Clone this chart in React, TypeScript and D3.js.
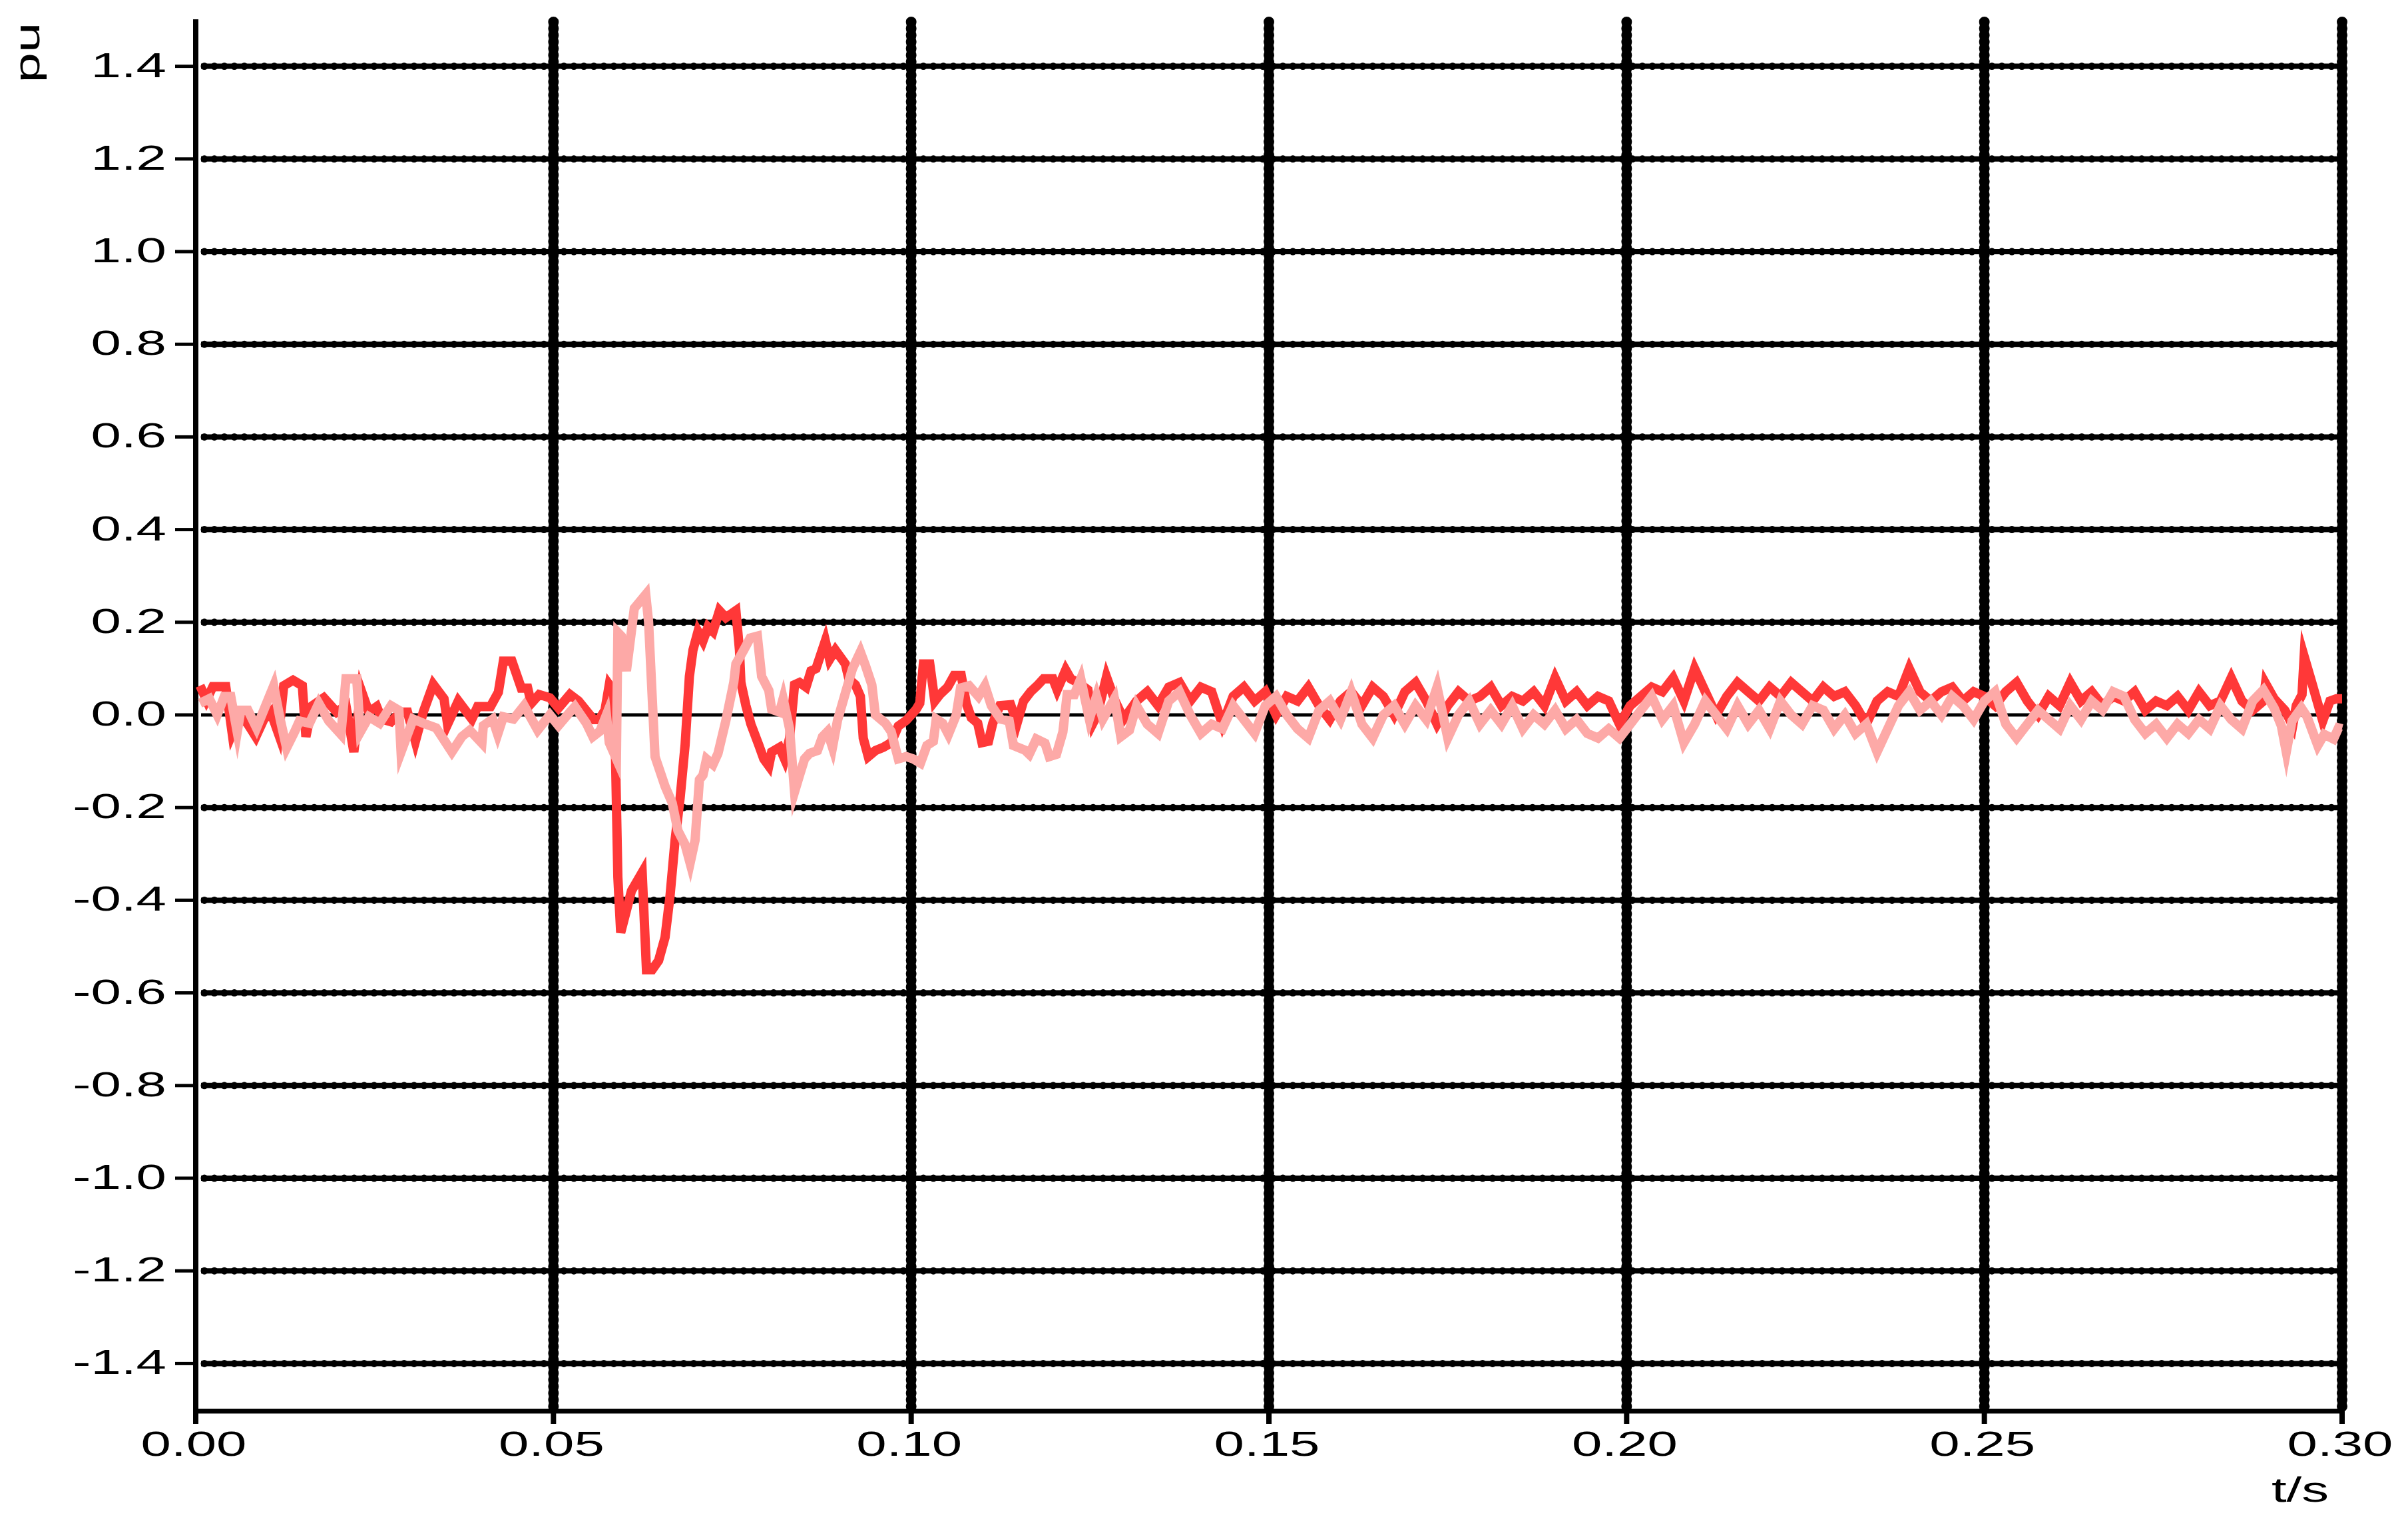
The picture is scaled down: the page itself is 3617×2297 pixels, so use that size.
import React from "react";
import * as d3 from "d3";

// time in ms, value in pu
const redSeries: [number, number][] = [
  [0.6, 0.063], [1.5, 0.032], [2.4, 0.061], [4.2, 0.061], [5.1, -0.04], [6.2, 0.0], [7.3, -0.02],
  [8.4, -0.047], [9.5, -0.01], [10.5, 0.006], [11.6, -0.042], [12.3, 0.063], [13.6, 0.075],
  [14.9, 0.063], [15.4, -0.047], [16.3, 0.02], [17.9, 0.037], [19.7, 0.006], [21.0, 0.02],
  [22.1, -0.08], [23.1, 0.054], [24.2, 0.006], [25.3, 0.018], [26.0, -0.009], [27.3, -0.015],
  [28.6, 0.006], [29.6, 0.006], [30.7, -0.057], [31.8, 0.006], [33.2, 0.066], [34.7, 0.035],
  [35.2, -0.02], [36.7, 0.03], [38.6, -0.009], [39.4, 0.018], [41.2, 0.018], [42.3, 0.049],
  [43.0, 0.116], [44.2, 0.116], [45.5, 0.058], [46.4, 0.058], [46.9, 0.025], [48.0, 0.044],
  [49.5, 0.037], [50.7, 0.015], [52.3, 0.044], [53.5, 0.03], [55.6, -0.01], [56.4, -0.01],
  [57.2, 0.01], [57.8, 0.065], [58.5, 0.05], [59.0, -0.35], [59.4, -0.47], [60.9, -0.38],
  [62.4, -0.34], [63.0, -0.55], [63.8, -0.55], [64.7, -0.53], [65.6, -0.48], [66.3, -0.39],
  [67.0, -0.27], [67.7, -0.18], [68.4, -0.065], [69.0, 0.083], [69.5, 0.14], [70.2, 0.18],
  [70.9, 0.16], [71.6, 0.19], [72.3, 0.18], [73.2, 0.225], [74.1, 0.21], [75.5, 0.225],
  [76.0, 0.14], [76.2, 0.07], [76.9, 0.02], [77.6, -0.02], [78.7, -0.065], [79.4, -0.095],
  [80.1, -0.11], [80.5, -0.08], [81.6, -0.07], [82.3, -0.095], [83.0, -0.05], [83.7, 0.065],
  [84.4, 0.07], [85.3, 0.06], [86.0, 0.095], [86.7, 0.1], [88.0, 0.16], [88.6, 0.12],
  [89.4, 0.14], [90.8, 0.11], [91.3, 0.077], [92.2, 0.065], [92.9, 0.04], [93.3, -0.05],
  [94.0, -0.09], [95.0, -0.077], [96.1, -0.07], [97.2, -0.06], [98.2, -0.024], [99.3, -0.012],
  [100.7, 0.012], [101.2, 0.025], [101.7, 0.11], [102.6, 0.11], [103.3, 0.03], [104.0, 0.044],
  [105.1, 0.06], [106.0, 0.085], [107.0, 0.085], [107.7, 0.025], [108.4, -0.006], [109.3, -0.018],
  [109.9, -0.06], [110.8, -0.057], [111.4, -0.018], [112.4, 0.02], [113.9, 0.022], [114.8, -0.018],
  [115.7, 0.03], [116.7, 0.05], [117.6, 0.063], [118.5, 0.078], [119.8, 0.078], [120.4, 0.054],
  [121.6, 0.097], [122.3, 0.078], [123.5, 0.068], [124.7, 0.054], [125.4, -0.018], [126.0, 0.0],
  [127.3, 0.082], [128.5, 0.03], [129.7, -0.009],
  [131.5, 0.03], [133, 0.05], [134.5, 0.02], [136, 0.06], [137.5, 0.07], [139, 0.03], [140.5, 0.06],
  [142, 0.05], [143.5, -0.02], [145, 0.04], [146.5, 0.06], [148, 0.03], [149.5, 0.05], [151, 0.0],
  [152.5, 0.04], [154, 0.03], [155.5, 0.06], [157, 0.02], [158.5, -0.01], [160, 0.03], [161.5, 0.05],
  [163, 0.02], [164.5, 0.06], [166, 0.04], [167.5, 0.0], [169, 0.05], [170.5, 0.07], [172, 0.03],
  [173.5, -0.02], [175, 0.02], [176.5, 0.05], [178, 0.03], [179.5, 0.04], [181, 0.06], [182.5, 0.02],
  [184, 0.04], [185.5, 0.03], [187, 0.05], [188.5, 0.02], [190, 0.08], [191.5, 0.03], [193, 0.05],
  [194.5, 0.02], [196, 0.04], [197.5, 0.03], [199, -0.02], [200.5, 0.02], [202, 0.04], [203.5, 0.06],
  [205, 0.05], [206.5, 0.08], [208, 0.03], [209.5, 0.1], [211, 0.05], [212.5, 0.0], [214, 0.04],
  [215.5, 0.07], [217, 0.05], [218.5, 0.03], [220, 0.06], [221.5, 0.04], [223, 0.07], [224.5, 0.05],
  [226, 0.03], [227.5, 0.06], [229, 0.04], [230.5, 0.05], [232, 0.02], [233.5, -0.02], [235, 0.03],
  [236.5, 0.05], [238, 0.04], [239.5, 0.1], [241, 0.05], [242.5, 0.03], [244, 0.05], [245.5, 0.06],
  [247, 0.03], [248.5, 0.05], [250, 0.04], [251.5, 0.02], [253, 0.05], [254.5, 0.07], [256, 0.03],
  [257.5, 0.0], [259, 0.04], [260.5, 0.02], [262, 0.07], [263.5, 0.03], [265, 0.05], [266.5, 0.02],
  [268, 0.04], [269.5, 0.03], [271, 0.05], [272.5, 0.01], [274, 0.03], [275.5, 0.02], [277, 0.04],
  [278.5, 0.01], [280, 0.05], [281.5, 0.02], [283, 0.03], [284.5, 0.08], [286, 0.03], [287.5, 0.01],
  [289.0, 0.03], [289.3, 0.068], [290.5, 0.035], [292, 0.01], [293.1, -0.023], [293.6, 0.02],
  [294.4, 0.044], [294.7, 0.126], [295.8, 0.068], [297.3, -0.013], [298.3, 0.03], [299.2, 0.035],
  [300, 0.035],
];

const pinkSeries: [number, number][] = [
  [0.6, 0.025], [1.9, 0.035], [3.0, 0.0], [4.0, 0.04], [4.9, 0.04], [5.8, -0.037], [6.3, 0.01],
  [7.3, 0.01], [8.5, -0.028], [10.9, 0.063], [11.8, -0.009], [12.7, -0.071], [13.8, -0.037],
  [14.5, -0.013], [15.9, -0.018], [17.2, 0.025], [18.6, -0.013], [20.3, -0.042], [21.0, 0.078],
  [22.5, 0.078], [23.0, -0.037], [24.2, -0.004], [25.7, -0.018], [27.3, 0.02], [28.4, 0.01],
  [28.7, -0.08], [30.4, -0.009], [31.8, -0.018], [33.6, -0.028], [35.8, -0.08], [37.2, -0.047],
  [38.3, -0.033], [40.0, -0.061], [40.2, -0.023], [41.5, -0.009], [42.2, -0.042], [43.0, -0.004],
  [44.4, -0.009], [45.9, 0.02], [47.8, -0.033], [49.5, 0.0], [50.7, -0.023], [52.3, 0.006],
  [53.0, 0.018], [54.6, -0.018], [55.5, -0.047], [56.5, -0.035], [57.4, 0.0], [57.8, -0.06],
  [58.8, -0.095], [59.0, 0.178], [59.5, 0.17], [60.2, 0.095], [61.3, 0.23], [62.9, 0.26],
  [63.3, 0.2], [64.2, -0.09], [65.6, -0.154], [66.6, -0.19], [67.4, -0.25], [68.4, -0.28],
  [69.1, -0.32], [69.8, -0.27], [70.4, -0.14], [70.9, -0.13], [71.4, -0.095], [72.3, -0.107],
  [73.0, -0.083], [74.1, -0.012], [75.2, 0.07], [75.5, 0.11], [76.6, 0.14], [77.5, 0.166],
  [78.5, 0.17], [79.1, 0.083], [80.1, 0.053], [80.5, 0.012], [81.6, 0.006], [82.1, 0.035],
  [83.0, -0.03], [83.7, -0.166], [84.4, -0.13], [85.1, -0.095], [85.8, -0.083], [86.9, -0.077],
  [87.6, -0.047], [88.3, -0.036], [89.0, -0.07], [89.7, -0.012], [90.8, 0.047], [91.8, 0.1],
  [92.9, 0.136], [93.6, 0.107], [94.5, 0.065], [95.0, 0.0], [96.4, -0.018], [97.2, -0.036],
  [98.2, -0.095], [99.3, -0.09], [100.3, -0.095], [101.3, -0.104], [102.2, -0.066], [103.1, -0.057],
  [103.5, -0.009], [104.4, -0.018], [105.2, -0.042], [106.3, 0.0], [106.9, 0.058], [108.1, 0.063],
  [109.4, 0.04], [110.3, 0.063], [111.2, 0.02], [112.5, -0.009], [113.7, -0.013], [114.3, -0.066],
  [115.9, -0.076], [116.5, -0.085], [117.5, -0.052], [118.7, -0.061], [119.3, -0.09], [120.3, -0.085],
  [121.2, -0.037], [121.8, 0.044], [122.8, 0.044], [123.7, 0.078], [124.9, -0.009], [125.9, 0.04],
  [126.8, -0.009], [128.4, 0.035], [129.3, -0.047], [130.5, -0.033],
  [131.5, 0.02], [133, -0.02], [134.5, -0.04], [136, 0.03], [137.5, 0.05], [139, 0.0], [140.5, -0.04],
  [142, -0.02], [143.5, -0.03], [145, 0.02], [146.5, -0.01], [148, -0.04], [149.5, 0.02], [151, 0.04],
  [152.5, 0.0], [154, -0.03], [155.5, -0.05], [157, 0.01], [158.5, 0.03], [160, -0.01], [161.5, 0.05],
  [163, -0.02], [164.5, -0.05], [166, 0.0], [167.5, 0.02], [169, -0.02], [170.5, 0.02], [172, -0.01],
  [173.5, 0.06], [175, -0.05], [176.5, 0.0], [178, 0.03], [179.5, -0.02], [181, 0.01], [182.5, -0.02],
  [184, 0.02], [185.5, -0.03], [187, 0.0], [188.5, -0.02], [190, 0.01], [191.5, -0.03], [193, -0.01],
  [194.5, -0.04], [196, -0.05], [197.5, -0.03], [199, -0.05], [200.5, -0.02], [202, 0.01], [203.5, 0.04],
  [205, -0.01], [206.5, 0.02], [208, -0.06], [209.5, -0.02], [211, 0.03], [212.5, 0.0], [214, -0.03],
  [215.5, 0.02], [217, -0.02], [218.5, 0.01], [220, -0.03], [221.5, 0.03], [223, 0.0], [224.5, -0.02],
  [226, 0.02], [227.5, 0.01], [229, -0.03], [230.5, 0.0], [232, -0.04], [233.5, -0.02], [235, -0.08],
  [236.5, -0.03], [238, 0.02], [239.5, 0.05], [241, 0.01], [242.5, 0.03], [244, 0.0], [245.5, 0.04],
  [247, 0.02], [248.5, -0.01], [250, 0.03], [251.5, 0.05], [253, -0.02], [254.5, -0.05], [256, -0.02],
  [257.5, 0.01], [259, -0.01], [260.5, -0.03], [262, 0.02], [263.5, -0.01], [265, 0.03], [266.5, 0.01],
  [268, 0.05], [269.5, 0.04], [271, -0.01], [272.5, -0.04], [274, -0.02], [275.5, -0.05], [277, -0.02],
  [278.5, -0.04], [280, -0.01], [281.5, -0.03], [283, 0.02], [284.5, -0.01], [286, -0.03], [287.5, 0.03],
  [289, 0.054], [290.5, 0.015], [291.5, -0.023], [292.2, -0.08], [293, -0.013], [294.3, 0.015],
  [295.1, -0.004], [296.6, -0.066], [297.5, -0.042], [298.8, -0.052], [299.5, -0.028], [300, -0.03],
];

const xTicks = [0, 50, 100, 150, 200, 250, 300];
const xTickLabels = ["0.00", "0.05", "0.10", "0.15", "0.20", "0.25", "0.30"];
const yTicks = [1.4, 1.2, 1.0, 0.8, 0.6, 0.4, 0.2, 0.0, -0.2, -0.4, -0.6, -0.8, -1.0, -1.2, -1.4];
const yTickLabels = ["1.4", "1.2", "1.0", "0.8", "0.6", "0.4", "0.2", "0.0", "-0.2", "-0.4", "-0.6", "-0.8", "-1.0", "-1.2", "-1.4"];

const W = 3617;
const H = 2297;
const FONT = "'Liberation Sans', Arial, Helvetica, sans-serif";
const STRETCH = 1.57;

export default function App() {
  const x = d3.scaleLinear().domain([0, 300]).range([294, 3518]);
  const y = d3.scaleLinear().domain([-1.5, 1.5]).range([2118, 30]);
  const line = d3
    .line<[number, number]>()
    .x((d) => x(d[0]))
    .y((d) => y(d[1]));

  const top = 29;
  const bottom = 2120;
  const gridLeft = 302;
  const gridRight = x(300);

  return (
    <svg
      width={W}
      height={H}
      viewBox={`0 0 ${W} ${H}`}
      style={{ position: "absolute", left: 0, top: 0, background: "#fff" }}
    >
      <rect x={0} y={0} width={W} height={H} fill="#fff" />
      {/* horizontal gridlines */}
      {yTicks.map((v) =>
        v === 0 ? (
          <line key={"h" + v} x1={gridLeft} x2={gridRight} y1={y(v)} y2={y(v)} stroke="#000" strokeWidth={5} />
        ) : (
          <g key={"h" + v}>
            <line x1={gridLeft} x2={gridRight} y1={y(v)} y2={y(v)} stroke="#000" strokeWidth={8} />
            <line
              x1={gridLeft + 5}
              x2={gridRight}
              y1={y(v)}
              y2={y(v)}
              stroke="#000"
              strokeWidth={11}
              strokeLinecap="round"
              strokeDasharray="0 15"
            />
          </g>
        )
      )}
      {/* vertical gridlines */}
      {xTicks.slice(1).map((t) => (
        <g key={"v" + t}>
          <line x1={x(t)} x2={x(t)} y1={top} y2={bottom - 4} stroke="#000" strokeWidth={14} />
          <line
            x1={x(t)}
            x2={x(t)}
            y1={top + 4}
            y2={bottom - 6}
            stroke="#000"
            strokeWidth={16}
            strokeLinecap="round"
            strokeDasharray="0 10"
          />
        </g>
      ))}
      {/* axes */}
      <line x1={x(0)} x2={x(0)} y1={top} y2={2139} stroke="#000" strokeWidth={8} />
      <line x1={x(0)} x2={x(300)} y1={bottom} y2={bottom} stroke="#000" strokeWidth={7} />
      {yTicks.map((v) => (
        <line key={"yt" + v} x1={263} x2={x(0)} y1={y(v)} y2={y(v)} stroke="#000" strokeWidth={5} />
      ))}
      {xTicks.slice(1).map((t) => (
        <line key={"xt" + t} x1={x(t)} x2={x(t)} y1={bottom} y2={2139} stroke="#000" strokeWidth={8} />
      ))}
      {/* labels */}
      {yTicks.map((v, i) => (
        <text
          key={"yl" + v}
          transform={`translate(250, ${y(v) + 16}) scale(${STRETCH},1)`}
          textAnchor="end"
          fontFamily={FONT}
          fontSize={52}
          fill="#000"
        >
          {yTickLabels[i]}
        </text>
      ))}
      {xTicks.map((t, i) => (
        <text
          key={"xl" + t}
          transform={`translate(${x(t) - 3}, 2187) scale(${STRETCH},1)`}
          textAnchor="middle"
          fontFamily={FONT}
          fontSize={52}
          fill="#000"
        >
          {xTickLabels[i]}
        </text>
      ))}
      <text
        transform={`translate(3455, 2256) scale(${STRETCH},1)`}
        textAnchor="middle"
        fontFamily={FONT}
        fontSize={52}
        fill="#000"
      >
        t/s
      </text>
      <text
        transform={`translate(59, 79) rotate(-90) scale(${STRETCH},1)`}
        textAnchor="middle"
        fontFamily={FONT}
        fontSize={52}
        fill="#000"
      >
        pu
      </text>
      {/* data */}
      <path d={line(redSeries) || ""} fill="none" stroke="#ff3838" strokeWidth={14} strokeLinejoin="miter" strokeMiterlimit={6} />
      <path d={line(pinkSeries) || ""} fill="none" stroke="#fda9a7" strokeWidth={14} strokeLinejoin="miter" strokeMiterlimit={6} />
    </svg>
  );
}
